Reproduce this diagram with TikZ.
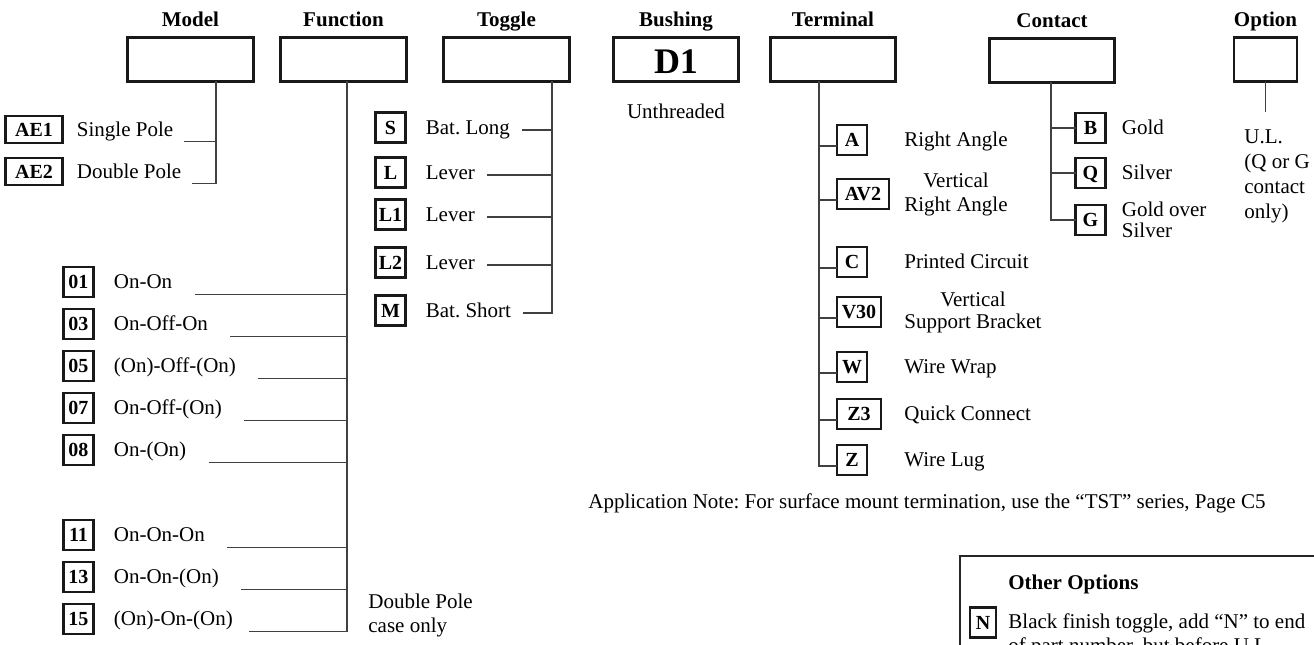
\documentclass[tikz,border=0pt]{standalone}
\usepackage{fontspec}
\setmainfont{Liberation Serif}
\usetikzlibrary{positioning}
\frenchspacing

\begin{document}
\begin{tikzpicture}[
  x=0.5pt, y=-0.5pt,
  font=\fontsize{10.5}{12}\selectfont,
  node distance=6pt,
  headbox/.style={draw=black!90, line width=1.35pt, minimum width=62.8pt, minimum height=21.8pt, inner sep=0pt, outer sep=0pt},
  headlbl/.style={font=\fontsize{10.5}{12}\selectfont\bfseries, anchor=base, inner sep=0pt},
  codebox/.style={draw=black!90, line width=1.15pt, font=\fontsize{10}{12}\selectfont\bfseries, minimum width=15pt, minimum height=15pt, inner sep=1.2pt, outer sep=0pt, text height=0.68em, text depth=0pt},
  txt/.style={inner sep=0pt, text height=0.7em, text depth=0.25em},
  multi/.style={inner sep=0pt},
  line/.style={draw=black!75, line width=0.7pt}
]
\useasboundingbox (0,0) rectangle (1314,644);

% part number boxes along the top
\node[headbox] (model) at (190.5,59.5) {};
\node[headbox] (function) at (343.5,59.5) {};
\node[headbox] (toggle) at (506.5,59.5) {};
\node[headbox, font=\fontsize{18}{20}\selectfont\bfseries, text height=14pt, text depth=0pt] (bushing) at (676,59.5) {D1};
\node[headbox] (terminal) at (833,59.5) {};
\node[headbox] (contact) at (1052,60.5) {};
\node[headbox, minimum width=31.5pt] (option) at (1265.5,59.5) {};

\node[headlbl] (modellbl) at ([yshift=5.5pt]model.north) {Model};
\node[headlbl] (functionlbl) at ([yshift=5.5pt]function.north) {Function};
\node[headlbl] (togglelbl) at ([yshift=5.5pt]toggle.north) {Toggle};
\node[headlbl] (bushinglbl) at ([yshift=5.5pt]bushing.north) {Bushing};
\node[headlbl] (terminallbl) at ([yshift=5.5pt]terminal.north) {Terminal};
\node[headlbl] (contactlbl) at ([yshift=5.5pt]contact.north) {Contact};
\node[headlbl] (optionlbl) at ([yshift=5.5pt]option.north) {Option};

% Model
\node[codebox, minimum width=28.5pt, minimum height=13.5pt] (cAE1) at (34,129.5) {AE1};
\node[codebox, minimum width=28.5pt, minimum height=13.5pt, below=7.5pt of cAE1] (cAE2) {AE2};
\node[txt, base right=7pt of cAE1] (tAE1) {Single Pole};
\node[txt, base right=7pt of cAE2] (tAE2) {Double Pole};

% Function
\node[codebox] (c01) at (78.5,282) {01};
\node[codebox, below=of c01] (c03) {03};
\node[codebox, below=of c03] (c05) {05};
\node[codebox, below=of c05] (c07) {07};
\node[codebox, below=of c07] (c08) {08};
\node[codebox, below=27.5pt of c08] (c11) {11};
\node[codebox, below=of c11] (c13) {13};
\node[codebox, below=of c13] (c15) {15};
\node[txt, base right=10pt of c01] (t01) {On-On};
\node[txt, base right=10pt of c03] (t03) {On-Off-On};
\node[txt, base right=10pt of c05] (t05) {(On)-Off-(On)};
\node[txt, base right=10pt of c07] (t07) {On-Off-(On)};
\node[txt, base right=10pt of c08] (t08) {On-(On)};
\node[txt, base right=10pt of c11] (t11) {On-On-On};
\node[txt, base right=10pt of c13] (t13) {On-On-(On)};
\node[txt, base right=10pt of c15] (t15) {(On)-On-(On)};
\node[multi, align=left, anchor=north west] (dpnote) at (368,594) {Double Pole\\case only};

% Toggle
\node[codebox] (cS) at (390.5,127.5) {S};
\node[codebox, below=7.5pt of cS] (cL) {L};
\node[codebox, below=of cL] (cL1) {L1};
\node[codebox, below=9pt of cL1] (cL2) {L2};
\node[codebox, below=9pt of cL2] (cM) {M};
\node[txt, base right=10pt of cS] (tS) {Bat. Long};
\node[txt, base right=10pt of cL] (tL) {Lever};
\node[txt, base right=10pt of cL1] (tL1) {Lever};
\node[txt, base right=10pt of cL2] (tL2) {Lever};
\node[txt, base right=10pt of cM] (tM) {Bat. Short};

% Bushing
\node[txt, anchor=base] (unthr) at ([yshift=-18.5pt]bushing.south) {Unthreaded};

% Terminal
\coordinate (rtxt) at (904,0);
\node[codebox, anchor=west] (cA) at (837,140) {A};
\node[codebox, anchor=west, minimum width=26pt] (cAV2) at (837,194) {AV2};
\node[codebox, anchor=west] (cC) at (837,262) {C};
\node[codebox, anchor=west, minimum width=22pt] (cV30) at (837,312) {V30};
\node[codebox, anchor=west] (cW) at (837,367) {W};
\node[codebox, anchor=west, minimum width=22pt] (cZ3) at (837,414) {Z3};
\node[codebox, anchor=west] (cZ) at (837,460) {Z};
\node[txt, anchor=base west] (tA) at (cA.base -| rtxt) {Right Angle};
\node[multi, align=center, anchor=west] (tAV2) at (cAV2.west -| rtxt) {Vertical\\Right Angle};
\node[txt, anchor=base west] (tC) at (cC.base -| rtxt) {Printed Circuit};
\node[multi, align=center, anchor=west, font=\fontsize{10.5}{11}\selectfont] (tV30) at (cV30.west -| rtxt) {Vertical\\Support Bracket};
\node[txt, anchor=base west] (tW) at (cW.base -| rtxt) {Wire Wrap};
\node[txt, anchor=base west] (tZ3) at (cZ3.base -| rtxt) {Quick Connect};
\node[txt, anchor=base west] (tZ) at (cZ.base -| rtxt) {Wire Lug};

\node[txt, anchor=base west] (appnote) at (588,508) {Application Note: For surface mount termination, use the “TST” series, Page C5};

% Contact
\node[codebox] (cB) at (1090.5,128) {B};
\node[codebox] (cQ) at (1090.5,173) {Q};
\node[codebox] (cG) at (1090.5,220) {G};
\node[txt, base right=8pt of cB] (tB) {Gold};
\node[txt, base right=8pt of cQ] (tQ) {Silver};
\node[multi, align=left, right=8pt of cG, font=\fontsize{10.5}{10.5}\selectfont] (tG) {Gold over\\Silver};

% Option
\coordinate (ostem) at (1265.5,112);
\node[multi, align=left, anchor=north west, font=\fontsize{10.5}{12.5}\selectfont] (ul) at (1244,129) {U.L.\\(Q or G\\contact\\only)};

% Other options box (runs off the page)
\node[draw=black!85, line width=1pt, anchor=north west, minimum width=200pt, minimum height=70pt, inner sep=0pt] (otherbox) at (959,555) {};
\node[headlbl, anchor=base west] (othertitle) at (1008,589) {Other Options};
\node[codebox, minimum width=13pt] (cN) at (983,622.5) {N};
\node[multi, align=left, anchor=north west] (tN) at (1008,613) {Black finish toggle, add “N” to end\\of part number, but before U.L.};

% connectors
\coordinate (mstem) at (216,0);
\draw[line] (model.south -| mstem) -- (tAE2.south east -| mstem) -- ([xshift=5pt]tAE2.south east);
\draw[line] ([xshift=5pt]tAE1.south east) -- (tAE1.south east -| mstem);

\coordinate (fstem) at (347,0);
\draw[line] (function.south -| fstem) -- (t15.south east -| fstem) -- ([xshift=8pt]t15.south east);
\draw[line] ([xshift=11pt]t01.south east) -- (t01.south east -| fstem);
\draw[line] ([xshift=11pt]t03.south east) -- (t03.south east -| fstem);
\draw[line] ([xshift=11pt]t05.south east) -- (t05.south east -| fstem);
\draw[line] ([xshift=11pt]t07.south east) -- (t07.south east -| fstem);
\draw[line] ([xshift=11pt]t08.south east) -- (t08.south east -| fstem);
\draw[line] ([xshift=11pt]t11.south east) -- (t11.south east -| fstem);
\draw[line] ([xshift=11pt]t13.south east) -- (t13.south east -| fstem);

\coordinate (tstem) at (552,0);
\draw[line] (toggle.south -| tstem) -- (tM.east -| tstem) -- ([xshift=6pt]tM.east);
\draw[line] ([xshift=6pt]tS.east) -- (tS.east -| tstem);
\draw[line] ([xshift=6pt]tL.east) -- (tL.east -| tstem);
\draw[line] ([xshift=6pt]tL1.east) -- (tL1.east -| tstem);
\draw[line] ([xshift=6pt]tL2.east) -- (tL2.east -| tstem);

\coordinate (rstem) at (819,0);
\draw[line] (terminal.south -| rstem) -- ([yshift=-3pt]cZ.west -| rstem) -- ([yshift=-3pt]cZ.west);
\draw[line] ([yshift=-3pt]cA.west) -- ([yshift=-3pt]cA.west -| rstem);
\draw[line] ([yshift=-3pt]cAV2.west) -- ([yshift=-3pt]cAV2.west -| rstem);
\draw[line] ([yshift=-3pt]cC.west) -- ([yshift=-3pt]cC.west -| rstem);
\draw[line] ([yshift=-3pt]cV30.west) -- ([yshift=-3pt]cV30.west -| rstem);
\draw[line] ([yshift=-3pt]cW.west) -- ([yshift=-3pt]cW.west -| rstem);
\draw[line] ([yshift=-3pt]cZ3.west) -- ([yshift=-3pt]cZ3.west -| rstem);

\coordinate (kstem) at (1051,0);
\draw[line] (contact.south -| kstem) -- (cG.west -| kstem) -- (cG.west);
\draw[line] (cB.west) -- (cB.west -| kstem);
\draw[line] (cQ.west) -- (cQ.west -| kstem);

\draw[line] (option.south) -- (ostem);

\end{tikzpicture}
\end{document}
